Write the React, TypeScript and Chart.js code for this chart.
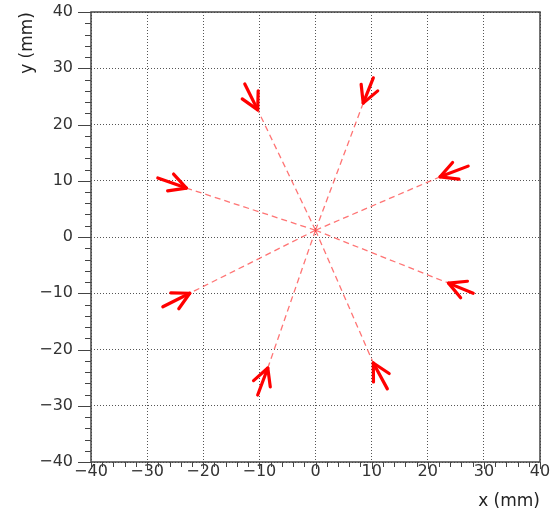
import { useEffect, useRef } from "react";
import { Chart, registerables } from "chart.js";

Chart.register(...registerables);

// Axis range and tick spacing (mm)
const axisMin = -40;
const axisMax = 40;
const majorStep = 10;
const minorStep = 2;
const xTitle = "x (mm)";
const yTitle = "y (mm)";

// Common origin of the rays (mm)
const originX = 0;
const originY = 1.2;

// Arrow tips: where each dashed ray ends (mm)
const tipX = [-10.3, 8.5, 22.2, -23.0, -22.4, 23.7, -8.5, 10.3];
const tipY = [22.6, 23.8, 10.7, 8.7, -10.0, -8.2, -23.3, -22.4];
// Arrow tails: outer end of each arrow shaft (mm)
const tailX = [-12.6, 10.3, 27.2, -28.1, -27.2, 28.1, -10.3, 12.8];
const tailY = [27.2, 28.3, 12.6, 10.5, -12.4, -10.0, -28.1, -27.0];

const FONT = "'DejaVu Sans', Verdana, sans-serif";
const RED = "#ff0000";
const RAY = "rgba(255, 70, 70, 0.75)";
const AXIS = "#444";

const fmt = (v: number) => (v < 0 ? "\u2212" + Math.abs(v) : String(v));

// Arrowheads drawn at the tip of each shaft dataset
const arrowHeads = {
  id: "arrowHeads",
  afterDatasetsDraw(chart: any) {
    const ctx = chart.ctx;
    const headLen = 19;
    const half = (28 * Math.PI) / 180;
    chart.data.datasets.forEach((ds: any, i: number) => {
      if (!ds.isArrow) return;
      const meta = chart.getDatasetMeta(i);
      const tail = meta.data[0];
      const tip = meta.data[1];
      if (!tail || !tip) return;
      const ang = Math.atan2(tail.y - tip.y, tail.x - tip.x);
      ctx.save();
      ctx.strokeStyle = RED;
      ctx.lineWidth = 3.2;
      ctx.lineCap = "round";
      ctx.lineJoin = "round";
      ctx.beginPath();
      ctx.moveTo(tip.x + headLen * Math.cos(ang - half), tip.y + headLen * Math.sin(ang - half));
      ctx.lineTo(tip.x, tip.y);
      ctx.lineTo(tip.x + headLen * Math.cos(ang + half), tip.y + headLen * Math.sin(ang + half));
      ctx.stroke();
      ctx.restore();
    });
  },
};

// Frame around the plot area plus major/minor tick marks on the outside
const frameAndTicks = {
  id: "frameAndTicks",
  afterDraw(chart: any) {
    const { ctx, chartArea: a } = chart;
    const xs = chart.scales.x;
    const ys = chart.scales.y;
    ctx.save();
    ctx.strokeStyle = AXIS;
    ctx.lineWidth = 1;
    ctx.beginPath();
    for (let v = axisMin; v <= axisMax + 1e-9; v += minorStep) {
      const major = Math.abs(v % majorStep) < 1e-9;
      const px = Math.round(xs.getPixelForValue(v)) + 0.5;
      ctx.moveTo(px, a.bottom);
      ctx.lineTo(px, a.bottom + (major ? 7 : 5));
      const py = Math.round(ys.getPixelForValue(v)) + 0.5;
      ctx.moveTo(a.left, py);
      ctx.lineTo(a.left - (major ? 13 : 6), py);
    }
    ctx.stroke();
    ctx.lineWidth = 1.5;
    ctx.strokeRect(a.left, a.top, a.right - a.left, a.bottom - a.top);
    ctx.restore();
  },
};

export default function App() {
  const ref = useRef<HTMLCanvasElement | null>(null);

  useEffect(() => {
    if (!ref.current) return;

    const rays = tipX.map((tx, i) => ({
      data: [
        { x: originX, y: originY },
        { x: tx, y: tipY[i] },
      ],
      showLine: true,
      borderColor: RAY,
      borderWidth: 1.3,
      borderDash: [6, 4],
      pointRadius: 0,
      pointHoverRadius: 0,
    }));

    const shafts = tipX.map((tx, i) => ({
      isArrow: true,
      data: [
        { x: tailX[i], y: tailY[i] },
        { x: tx, y: tipY[i] },
      ],
      showLine: true,
      borderColor: RED,
      borderWidth: 3.2,
      borderCapStyle: "round",
      pointRadius: 0,
      pointHoverRadius: 0,
    }));

    const tickFont = { family: FONT, size: 16 };
    const titleFont = { family: FONT, size: 17 };

    const chart = new Chart(ref.current, {
      type: "scatter",
      data: { datasets: [...rays, ...shafts] as any },
      options: {
        responsive: false,
        animation: false,
        events: [],
        layout: { padding: { top: 12, right: 13, left: 0, bottom: 0 } },
        plugins: {
          legend: { display: false },
          tooltip: { enabled: false },
        },
        scales: {
          x: {
            type: "linear",
            min: axisMin,
            max: axisMax,
            afterFit: (s: any) => {
              s.height = 50;
              s.paddingLeft = 0;
              s.paddingRight = 0;
            },
            grid: { color: "#555", lineWidth: 1, drawTicks: false },
            border: { display: false, dash: [1, 2] },
            ticks: {
              stepSize: majorStep,
              autoSkip: false,
              maxRotation: 0,
              padding: 0,
              color: "#333",
              font: tickFont,
              callback: (v: any) => fmt(Number(v)),
            },
            title: {
              display: true,
              text: xTitle,
              align: "end",
              color: "#222",
              font: titleFont,
              padding: { top: 0, bottom: 0 },
            },
          },
          y: {
            type: "linear",
            min: axisMin,
            max: axisMax,
            afterFit: (s: any) => {
              s.width = 91;
              s.paddingTop = 0;
              s.paddingBottom = 0;
            },
            grid: { color: "#555", lineWidth: 1, drawTicks: false },
            border: { display: false, dash: [1, 2] },
            ticks: {
              stepSize: majorStep,
              autoSkip: false,
              padding: 18,
              color: "#333",
              font: tickFont,
              callback: (v: any) => fmt(Number(v)),
            },
            title: {
              display: true,
              text: yTitle,
              align: "end",
              color: "#222",
              font: titleFont,
              padding: { top: 17, bottom: 0 },
            },
          },
        },
      },
      plugins: [arrowHeads, frameAndTicks],
    });

    return () => chart.destroy();
  }, []);

  return (
    <div style={{ position: "fixed", left: 0, top: 0, width: 553, height: 512, background: "#fff" }}>
      <canvas ref={ref} width={553} height={512} style={{ width: 553, height: 512, display: "block" }} />
    </div>
  );
}
